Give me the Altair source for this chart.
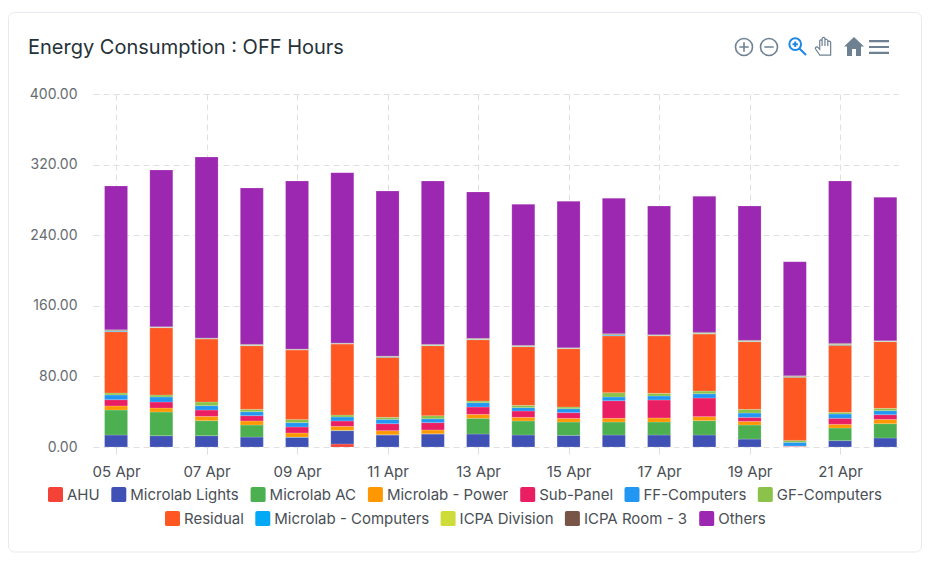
import altair as alt
import pandas as pd

days = list(range(5, 23))
series = ["AHU", "Microlab Lights", "Microlab AC", "Microlab - Power", "Sub-Panel", "FF-Computers",
          "GF-Computers", "Residual", "Microlab - Computers", "ICPA Division", "ICPA Room - 3", "Others"]
colors = ["#F44336", "#3F51B5", "#4CAF50", "#FF9800", "#E91E63", "#2196F3",
          "#8BC34A", "#FF5722", "#03A9F4", "#CDDC39", "#795548", "#9C27B0"]
ahu = [0, 0, 0, 0, 0, 3.4, 0, 0, 0, 0, 0, 0, 0, 0, 0, 0, 0, 0]
lights = [13.6, 12.8, 12.8, 11.3, 11, 15.1, 13.6, 14.7, 14.7, 13.6, 13.2, 13.6, 13.6, 13.6, 9, 0.3, 7.2, 10.2]
ac = [28.3, 26.9, 17, 13.6, 0.3, 0.4, 0.3, 0.3, 17.8, 15.9, 15.1, 14.7, 14.7, 16.2, 15.9, 0.2, 14.3, 16.2]
power = [4.6, 4.5, 4.9, 4.6, 4.6, 4.5, 4.6, 4.3, 4.5, 4.1, 4.2, 4.2, 4.6, 4.6, 4.1, 0.2, 4.2, 4.9]
sub_panel = [7.1, 6.8, 7.2, 6, 6.8, 6.1, 7.9, 8.3, 8.3, 7.2, 6.4, 20, 20.4, 21.1, 4.6, 0.4, 6.8, 5.3]
ff = [5.4, 5.7, 4.9, 4.5, 4.9, 4.5, 4.9, 4.4, 4.9, 3.8, 4.5, 4.2, 4.5, 4.9, 4.9, 4.2, 4.9, 4.6]
gf = [2.2, 2.3, 4.2, 2.7, 3.7, 2.3, 2.3, 3.5, 1.9, 2.6, 1.9, 4.9, 3, 3, 4.2, 2.2, 1.9, 2.6]
residual = [69.5, 76.2, 71.4, 72.1, 78.7, 80.4, 68, 79.3, 69.5, 66.5, 66.1, 64.4, 65.2, 64.6, 76.7, 71.5, 75.9, 75.6]
mc = [.8, .4, .4, .5, .4, .4, .5, .5, .5, .5, .4, .8, .4, .7, .5, .6, .8, .4]
icpa = [.5, .3, .3, .4, .2, .3, .4, .4, .4, .4, .3, .6, .4, .5, .4, .5, .5, .3]
room = [1, .4, .4, .6, .4, .4, .5, .6, .6, .6, .5, 1, .5, .8, .6, .7, 1, .4]
others = [162.8, 177.6, 205.1, 177.2, 190.4, 193.1, 187, 185.1, 165.9, 159.8, 165.9, 153.6, 145.7, 154, 152.1, 129.2, 183.9, 162.5]
columns = [ahu, lights, ac, power, sub_panel, ff, gf, residual, mc, icpa, room, others]

x_ticks = list(range(5, 22, 2))
y_ticks = [0, 80, 160, 240, 320, 400]
row1 = series[:7]
row2 = series[7:]

rows = [{"day": d, "series": s, "order": i, "value": col[j]}
        for i, (s, col) in enumerate(zip(series, columns)) for j, d in enumerate(days)]
df = pd.DataFrame(rows)

FONT = "Inter"
LEFT, TOP = 85, 86
W, H = 805, 353
one = pd.DataFrame({"a": [0]})

x_enc = alt.X("day:Q", scale=alt.Scale(domain=[4.49, 22.28], nice=False, zero=False, padding=0),
              axis=alt.Axis(values=x_ticks, labelExpr="(datum.value < 10 ? '0' : '') + datum.value + ' Apr'",
                            title=None, grid=True, gridColor="#e0e0e0", gridDash=[6, 4], domain=False,
                            tickColor="#dddddd", tickSize=7, labelFont=FONT, labelFontSize=15,
                            labelColor="#4a4f55", labelPadding=10, labelAngle=0, labelOverlap=False))
y_enc = alt.Y("value:Q", stack="zero", scale=alt.Scale(domain=[0, 400], nice=False),
              axis=alt.Axis(values=y_ticks, format=".2f", title=None, grid=True, gridColor="#e0e0e0",
                            gridDash=[6, 4], domain=False, ticks=False, labelFont=FONT, labelFontSize=14,
                            labelColor="#666b70", labelPadding=16))


def legend(values, lx, ly, cols):
    return alt.Legend(values=values, orient="none", legendX=lx, legendY=ly, columns=cols, gridAlign="none",
                      title=None, symbolType="M-0.75,-1 H0.75 Q1,-1 1,-0.75 V0.75 Q1,1 0.75,1 H-0.75 Q-1,1 -1,0.75 V-0.75 Q-1,-1 -0.75,-1 Z",
                      symbolSize=225, symbolStrokeWidth=0, symbolOpacity=1, labelFont=FONT, labelFontSize=15,
                      labelColor="#4a4f55", labelOffset=4, columnPadding=11.3, rowPadding=0, padding=0,
                      labelLimit=300)


card = alt.Chart(one).mark_rect(filled=False, stroke="#e6e9ef", strokeWidth=1, cornerRadius=6).encode(
    x=alt.value(0.5 - LEFT), x2=alt.value(913.5 - LEFT), y=alt.value(4.5 - TOP), y2=alt.value(544 - TOP))

base = alt.Chart(df)
bars = base.mark_bar(width=23, stroke="#ffffff", strokeWidth=0.3, strokeOpacity=0.6).encode(
    x=x_enc, y=y_enc, order=alt.Order("order:Q"),
    color=alt.Color("series:N", sort=series, scale=alt.Scale(domain=series, range=colors),
                    legend=legend(row1, -45, 393, 7)))
ghost = base.mark_bar(width=23, opacity=0).encode(
    x=x_enc, y=y_enc, order=alt.Order("order:Q"),
    color=alt.Color("series:N", sort=series, scale=alt.Scale(domain=series, range=colors),
                    legend=legend(row2, 72, 417, 5)))

GRAY = "#6e8192"
BLUE = "#1e88e5"


def icon(path, cx, cy, px, stroke=None, fill=None, sw=1.6):
    kw = dict(shape=path, size=px * px, filled=fill is not None, opacity=1)
    if stroke:
        kw.update(stroke=stroke, strokeWidth=sw)
    if fill:
        kw.update(fill=fill)
    return alt.Chart(one).mark_point(**kw).encode(x=alt.value(cx - 93), y=alt.value(cy - 94))


CIRC = "M-1,0 A1,1 0 1,1 1,0 A1,1 0 1,1 -1,0 Z "
icons = [
    icon(CIRC + "M-.55,0 H.55 M0,-.55 V.55", 744, 47, 17, stroke=GRAY),
    icon(CIRC + "M-.55,0 H.55", 769, 47, 17, stroke=GRAY),
    icon("M-.85,-.2 A.65,.65 0 1,1 .45,-.2 A.65,.65 0 1,1 -.85,-.2 Z M.27,.27 L1,1 M-.5,-.2 H.1 M-.2,-.5 V.1", 797, 46, 18, stroke=BLUE, sw=2),
    icon("M-.45,.95 L-.9,.3 Q-.95,.1 -.7,.1 L-.45,.35 V-.55 Q-.35,-.75 -.2,-.55 V-.8 Q-.05,-1 .1,-.8 V-.65 Q.25,-.8 .4,-.6 V-.45 Q.6,-.6 .7,-.4 V.95 Z M-.2,-.55 V0 M.1,-.65 V0 M.4,-.45 V0", 824, 46, 19, stroke=GRAY, sw=1.2),
    icon("M0,-1 L1,-.05 H.7 V.9 H.2 V.2 H-.2 V.9 H-.7 V-.05 H-1 Z", 854, 47, 20, fill=GRAY),
    icon("M-1,-.7 H1 V-.48 H-1 Z M-1,-.11 H1 V.11 H-1 Z M-1,.48 H1 V.7 H-1 Z", 879, 47, 20, fill=GRAY),
]

chart = alt.layer(card, bars, ghost, *icons).resolve_scale(color="independent").properties(
    width=W, height=H,
    title=alt.TitleParams("Energy Consumption : OFF Hours", anchor="start", frame="group", font=FONT, fontSize=20,
                          fontWeight=400, color="#263238", dx=-65, offset=0, dy=46),
    padding={"left": LEFT, "top": TOP, "right": 24, "bottom": 107},
    autosize=alt.AutoSizeParams(type="none"),
).configure_view(stroke=None)

chart.save("out.html", embed_options={"renderer": "svg", "actions": False})
